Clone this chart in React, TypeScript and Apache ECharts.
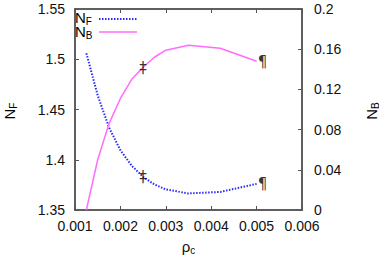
import React, { useEffect, useRef } from 'react';
import * as echarts from 'echarts';

const rho = [0.00125, 0.0015, 0.00175, 0.002, 0.00225, 0.0025, 0.00275, 0.003, 0.0035, 0.0042, 0.005];
const nF = [1.506, 1.464, 1.432, 1.4095, 1.394, 1.383, 1.3754, 1.3705, 1.3665, 1.368, 1.376];
const nB = [0.0, 0.05, 0.086, 0.111, 0.13, 0.142, 0.152, 0.159, 0.164, 0.161, 0.148];
const markIdx = [5, 10];
const markGlyphs = ['‡', '¶'];
const markOffsets = [[0, 8], [6, 8]];
const seriesNames = ['N_F', 'N_B'];

const FONT = "'Liberation Sans', Arial, Helvetica, sans-serif";
const AXIS = '#555';

const rich = {
  n: { fontSize: 15, fontFamily: FONT, color: '#111', verticalAlign: 'top', lineHeight: 14 },
  s: { fontSize: 10, fontFamily: FONT, color: '#111', verticalAlign: 'top', lineHeight: 7, padding: [6, 0, 0, 0] },
};

export default function App() {
  const ref = useRef<HTMLDivElement>(null);
  useEffect(() => {
    document.body.style.margin = '0';
    const chart = echarts.init(ref.current!, undefined, { renderer: 'svg' });
    const pts = (ys: number[]) => rho.map((r, i) => [r, ys[i]]);
    const marks = (ys: number[]) =>
      markIdx.map((k, j) => ({
        value: [rho[k], ys[k]],
        name: markGlyphs[j],
        label: { offset: markOffsets[j] },
      }));
    const axisCommon = {
      axisLine: { show: true, lineStyle: { color: AXIS, width: 1.5 } },
      axisTick: { show: true, inside: true, length: 4, lineStyle: { color: AXIS, width: 1 } },
      splitLine: { show: false },
    };
    const labelStyle = { color: '#111', fontSize: 14, fontFamily: FONT };
    const markLabel = {
      show: true, position: 'top', distance: 0, formatter: '{b}', color: '#000', fontSize: 15,
      fontFamily: "'DejaVu Sans', sans-serif", textBorderWidth: 0,
    };
    chart.setOption({
      animation: false,
      backgroundColor: '#fff',
      grid: { left: 75, right: 77, top: 9, bottom: 46, show: true, borderColor: AXIS, borderWidth: 1.5 },
      xAxis: [
        {
          type: 'value', min: 0.001, max: 0.006, interval: 0.001, position: 'bottom',
          ...axisCommon,
          axisLabel: { ...labelStyle, margin: 9 },
          name: '{n|ρ}{s|c}', nameLocation: 'middle', nameGap: 29,
          nameTextStyle: { rich },
        },
        {
          type: 'value', min: 0.001, max: 0.006, interval: 0.001, position: 'top',
          ...axisCommon,
          axisLabel: { show: false },
        },
      ],
      yAxis: [
        {
          type: 'value', min: 1.35, max: 1.55, interval: 0.05, position: 'left',
          ...axisCommon,
          axisLabel: { ...labelStyle, margin: 10 },
        },
        {
          type: 'value', min: 0, max: 0.2, interval: 0.04, position: 'right',
          ...axisCommon,
          axisLabel: { ...labelStyle, margin: 12 },
        },
      ],
      series: [
        {
          name: seriesNames[0], type: 'line', xAxisIndex: 0, yAxisIndex: 0, data: pts(nF),
          showSymbol: false, symbol: 'none', smooth: false,
          lineStyle: { color: '#2a2aff', width: 2, type: [1.5, 1.5] },
        },
        {
          name: seriesNames[1], type: 'line', xAxisIndex: 0, yAxisIndex: 1, data: pts(nB),
          showSymbol: false, symbol: 'none', smooth: false,
          lineStyle: { color: '#ff6cff', width: 1.5 },
        },
        {
          type: 'scatter', xAxisIndex: 0, yAxisIndex: 0, data: marks(nF), symbolSize: 0,
          itemStyle: { color: '#000' }, label: markLabel, z: 5,
        },
        {
          type: 'scatter', xAxisIndex: 0, yAxisIndex: 1, data: marks(nB), symbolSize: 0,
          itemStyle: { color: '#000' }, label: markLabel, z: 5,
        },
      ],
      graphic: [
        { type: 'text', left: 75, top: 10, style: { text: '{n|N}{s|F}\n{n|N}{s|B}', rich } },
        { type: 'line', shape: { x1: 99, y1: 19, x2: 137, y2: 19 }, style: { stroke: '#2a2aff', lineWidth: 2, lineDash: [1.5, 1.5] } },
        { type: 'line', shape: { x1: 99, y1: 32, x2: 137, y2: 32 }, style: { stroke: '#ff6cff', lineWidth: 1.5 } },
        {
          type: 'text', x: 9, y: 111, rotation: Math.PI / 2,
          style: { text: '{n|N}{s|F}', rich, align: 'center', verticalAlign: 'middle' },
        },
        {
          type: 'text', x: 371, y: 111, rotation: Math.PI / 2,
          style: { text: '{n|N}{s|B}', rich, align: 'center', verticalAlign: 'middle' },
        },
      ],
    });
    return () => chart.dispose();
  }, []);
  return <div ref={ref} style={{ width: 379, height: 260 }} />;
}
